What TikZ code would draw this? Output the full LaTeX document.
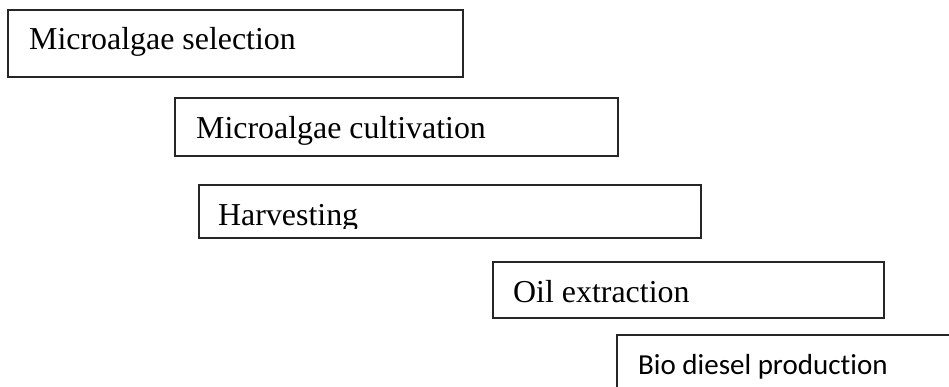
\documentclass[tikz,border=0pt]{standalone}
\usepackage{fontspec}
\setmainfont{Liberation Serif}
\newfontfamily\calib[Ligatures=NoCommon]{Carlito}
\begin{document}
\begin{tikzpicture}[x=1pt,y=-1pt,
  stagebox/.style={draw=black!85, line width=1.2pt, fill=none},
  serlabel/.style={anchor=base west, inner sep=0pt, font=\fontsize{31.9}{36}\selectfont},
  sanslabel/.style={anchor=base west, inner sep=0pt, font=\calib\fontsize{29}{34}\selectfont}]
\useasboundingbox (0,0) rectangle (949,387);
\clip (0,0) rectangle (949,387);
% boxes
\draw[stagebox] (8,10) rectangle (463,77);
\coordinate (b1) at (8,10);
\draw[stagebox] (175,98) rectangle (618,156);
\coordinate (b2) at (175,98);
\draw[stagebox] (199,185) rectangle (701,238);
\coordinate (b3) at (199,185);
\draw[stagebox] (493,262) rectangle (884,318);
\coordinate (b4) at (493,262);
\draw[stagebox] (617,335) rectangle (970,410);
\coordinate (b5) at (617,335);
% labels
\node[serlabel] (t1) at (29,50) {Microalgae selection};
\node[serlabel] (t2) at (196,139) {Microalgae cultivation};
\begin{scope}
\clip (199,185) rectangle (701,228);
\node[serlabel] (t3) at (218,225.5) {Harvesting};
\end{scope}
\node[serlabel] (t4) at (513,302.5) {Oil extraction};
\node[sanslabel] (t5) at (638,374) {Bio diesel production};
\end{tikzpicture}
\end{document}
